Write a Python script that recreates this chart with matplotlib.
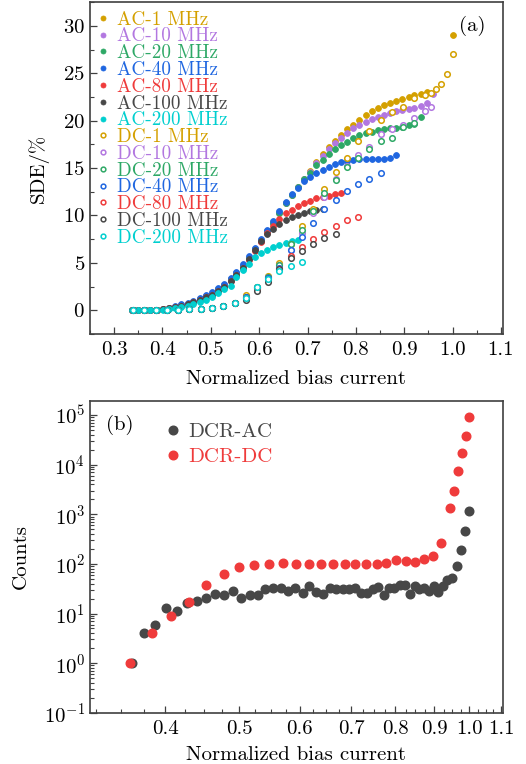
import matplotlib
matplotlib.use("Agg")
import matplotlib.pyplot as plt
from matplotlib.ticker import FixedLocator, MultipleLocator, LogLocator, NullFormatter

plt.rcParams["font.family"] = ["cmr10", "DejaVu Serif"]
plt.rcParams["mathtext.fontset"] = "cm"
plt.rcParams["axes.formatter.use_mathtext"] = True
plt.rcParams["axes.unicode_minus"] = False

# ---- panel (a): SDE vs normalized bias current ----
ac_x = [0.337, 0.350, 0.363, 0.375, 0.388, 0.401, 0.414, 0.426, 0.439, 0.452,
        0.464, 0.477, 0.490, 0.502, 0.515, 0.528, 0.541, 0.553, 0.566, 0.579,
        0.591, 0.604, 0.617, 0.629, 0.642, 0.655, 0.668, 0.680, 0.693, 0.706,
        0.718, 0.731, 0.744, 0.756, 0.769, 0.782, 0.794, 0.807, 0.820, 0.833,
        0.845, 0.858, 0.871, 0.883, 0.896, 0.909, 0.921, 0.934, 0.947, 0.960]

ac_low = [0, 0, 0, 0, 0.05, 0.1, 0.2, 0.35, 0.5, 0.7,
          0.9, 1.15, 1.45, 1.75, 2.2, 2.65, 3.25, 3.9, 4.7, 5.55,
          6.45, 7.35, 8.35, 9.25, 10.3, 11.3, 12.2, 13.0, 13.8]

ac1_y = ac_low + [14.7, 15.6, 16.5, 17.2, 17.9, 18.5, 19.1, 19.6, 20.1, 20.6,
                  21.0, 21.35, 21.65, 21.9, 22.07, 22.28, 22.46, 22.67, 22.84, 23.05]
ac1_x = ac_x[:49] + [1.0]
ac1_y = ac1_y[:49] + [29.1]

ac10_y = ac_low + [14.6, 15.5, 16.3, 17.0, 17.6, 18.2, 18.7, 19.2, 19.55, 19.85,
                   20.15, 20.4, 20.6, 20.84, 21.0, 21.1, 21.23, 21.3, 21.55, 21.9, 22.8]
ac10_x = ac_x[:50]

ac20_y = ac_low + [14.5, 15.3, 15.9, 16.5, 17.0, 17.4, 17.8, 18.15, 18.45, 18.7,
                   18.85, 19.0, 19.1, 19.2, 19.25, 19.3, 19.5, 19.7, 20.35]
ac20_x = ac_x[:48]

ac40_y = [0, 0, 0, 0, 0.05, 0.12, 0.25, 0.4, 0.6, 0.8,
          1.0, 1.3, 1.6, 1.9, 2.35, 2.8, 3.4, 4.05, 4.85, 5.7,
          6.6, 7.5, 8.5, 9.45, 10.45, 11.4, 12.3, 12.9, 13.6, 14.1,
          14.5, 14.85, 15.1, 15.4, 15.6, 15.75, 15.85, 15.93, 15.93, 15.93,
          15.93, 15.97, 16.07, 16.4]
ac40_x = ac_x[:44]

ac80_y = [0, 0, 0, 0, 0.05, 0.1, 0.2, 0.3, 0.45, 0.65,
          0.85, 1.1, 1.35, 1.65, 2.05, 2.5, 3.05, 3.7, 4.5, 5.35,
          6.25, 7.2, 8.1, 8.9, 9.65, 10.25, 10.6, 10.95, 11.3, 11.55,
          11.8, 12.0, 12.1, 12.25, 12.4]
ac80_x = ac_x[:35]

ac100_y = [0, 0, 0, 0, 0.05, 0.1, 0.2, 0.3, 0.45, 0.65,
           0.85, 1.1, 1.35, 1.65, 2.05, 2.5, 3.05, 3.7, 4.5, 5.4,
           6.4, 7.3, 8.0, 8.6, 9.1, 9.47, 9.8, 10.0, 10.25, 10.46,
           10.6, 10.7]
ac100_x = ac_x[:32]

ac200_y = [0, 0, 0, 0, 0, 0.05, 0.1, 0.2, 0.3, 0.4,
           0.6, 0.85, 1.1, 1.4, 1.8, 2.2, 2.6, 3.5, 4.2, 4.9,
           5.6, 6.0, 6.4, 6.67, 6.88, 7.1, 7.26, 7.37]
ac200_x = ac_x[:28]

dc_x = [0.339, 0.362, 0.386, 0.409, 0.432, 0.455, 0.479, 0.502, 0.525, 0.549,
        0.572, 0.595, 0.619, 0.642, 0.665, 0.688, 0.712, 0.735, 0.758, 0.781,
        0.805, 0.828, 0.851, 0.874, 0.898, 0.921, 0.944]
dc_low = [0, 0, 0, 0.05, 0.07, 0.1, 0.15, 0.25, 0.45, 0.8]

dc1_x = dc_x + [0.955, 0.966, 0.977, 0.989, 1.0]
dc1_y = dc_low + [1.55, 2.5, 3.65, 5.0, 7.0, 8.84, 10.67, 12.84, 14.6, 16.1,
                  17.9, 18.95, 20.07, 20.95, 21.4, 22.45, 22.7,
                  22.9, 23.4, 23.9, 24.9, 27.0]
dc10_x = dc_x + [0.955]
dc10_y = dc_low + [1.4, 2.4, 3.5, 4.8, 6.4, 8.1, 10.25, 12.0, 13.9, 15.2,
                   16.4, 17.2, 18.6, 19.1, 19.6, 20.25, 21.05, 21.45]
dc20_x = dc_x[:26]
dc20_y = dc_low + [1.4, 2.4, 3.5, 4.75, 6.95, 8.5, 10.5, 12.35, 13.75, 15.1,
                   16.1, 17.0, 17.9, 18.15, 19.3, 19.8]
dc40_x = dc_x[:23]
dc40_y = dc_low + [1.35, 2.35, 3.4, 4.5, 6.4, 7.7, 9.2, 10.67, 11.65, 12.6,
                   13.3, 13.83, 14.5]
dc80_x = dc_x[:21]
dc80_y = dc_low + [1.25, 2.2, 3.2, 4.4, 5.7, 6.67, 7.54, 8.3, 8.9, 9.47, 9.8]
dc100_x = dc_x[:19]
dc100_y = dc_low + [1.1, 2.0, 3.0, 4.3, 5.5, 6.3, 7.0, 7.58, 8.07]
dc200_x = dc_x[:16]
dc200_y = dc_low + [1.3, 2.4, 3.3, 4.1, 4.63, 5.05]

freqs = ["1", "10", "20", "40", "80", "100", "200"]
colors = ["#D4A000", "#B277E0", "#2EA866", "#1F66E0", "#EF3B3B", "#474747", "#00CFCF"]
ac_series = [(ac1_x, ac1_y), (ac10_x, ac10_y), (ac20_x, ac20_y), (ac40_x, ac40_y),
             (ac80_x, ac80_y), (ac100_x, ac100_y), (ac200_x, ac200_y)]
dc_series = [(dc1_x, dc1_y), (dc10_x, dc10_y), (dc20_x, dc20_y), (dc40_x, dc40_y),
             (dc80_x, dc80_y), (dc100_x, dc100_y), (dc200_x, dc200_y)]

# ---- panel (b): dark counts ----
dcr_ac_x = [0.362, 0.375, 0.388, 0.401, 0.414, 0.427, 0.440, 0.452, 0.465, 0.478,
            0.491, 0.503, 0.516, 0.529, 0.541, 0.554, 0.567, 0.580, 0.592, 0.605,
            0.617, 0.631, 0.644, 0.657, 0.670, 0.684, 0.696, 0.709, 0.721, 0.734,
            0.747, 0.760, 0.773, 0.784, 0.798, 0.811, 0.823, 0.835, 0.848, 0.860,
            0.873, 0.886, 0.899, 0.911, 0.924, 0.935, 0.950, 0.962, 0.975, 0.988, 1.000]
dcr_ac_y = [1, 4, 6, 13, 11.1, 16.4, 18, 21, 25.3, 24,
            28, 21, 24, 24, 31.9, 33, 32, 29, 32, 26.5,
            35.5, 27.7, 25.3, 32, 31, 30.5, 30.5, 32, 26.5, 26.5,
            30.5, 34, 24, 33, 33, 37, 37, 25.3, 36, 30.5,
            32, 29, 35.5, 27, 35.5, 48, 51.5, 90, 188, 462, 1170]
dcr_dc_x = [0.360, 0.384, 0.407, 0.430, 0.453, 0.477, 0.500, 0.523, 0.547, 0.570,
            0.593, 0.617, 0.640, 0.663, 0.687, 0.709, 0.732, 0.756, 0.779, 0.802,
            0.826, 0.849, 0.872, 0.896, 0.919, 0.942, 0.954, 0.966, 0.977, 0.989, 1.000]
dcr_dc_y = [1, 4, 9, 16.9, 38.4, 63, 85.7, 94, 98, 103,
            100, 98, 100, 98, 101, 98, 98, 100, 103, 120,
            115, 111, 126, 143, 269, 1340, 2997, 7340, 17200, 38400, 89800]

spine_c = "#404040"
fs = 15

fig = plt.figure(figsize=(5.26, 7.64), dpi=100)
ax1 = fig.add_axes([0.171, 0.563, 0.785, 0.434])
ax2 = fig.add_axes([0.171, 0.067, 0.785, 0.408])

for (x, y), c, f in zip(ac_series, colors, freqs):
    ax1.plot(x, y, "o", ms=4.2, color=c, mec=c, mew=0.6, ls="none", label=f"AC-{f} MHz")
for (x, y), c, f in zip(dc_series, colors, freqs):
    ax1.plot(x, y, "o", ms=4.0, mfc="white", mec=c, mew=1.1, ls="none", label=f"DC-{f} MHz")

ax1.set_xlim(0.25, 1.104)
ax1.set_ylim(-2.5, 32.5)
ax1.xaxis.set_minor_locator(MultipleLocator(0.05))
ax1.yaxis.set_major_locator(FixedLocator([0, 5, 10, 15, 20, 25, 30]))
ax1.yaxis.set_minor_locator(MultipleLocator(2.5))
ax1.set_xticks([0.3, 0.4, 0.5, 0.6, 0.7, 0.8, 0.9, 1.0, 1.1])
ax1.set_xticklabels(["0.3", "0.4", "0.5", "0.6", "0.7", "0.8", "0.9", "1.0", "1.1"])
ax1.set_xlabel("Normalized bias current", fontsize=fs, labelpad=8)
ax1.set_ylabel("SDE/%", fontsize=fs, labelpad=10)
ax1.text(0.958, 0.96, "(a)", transform=ax1.transAxes, ha="right", va="top", fontsize=fs)

leg1 = ax1.legend(loc="upper left", bbox_to_anchor=(-0.012, 1.015), frameon=False,
                  fontsize=13.8, handlelength=0.5, handletextpad=0.45,
                  labelspacing=-0.06, borderaxespad=0.3, markerscale=0.85)
for t, h in zip(leg1.get_texts(), leg1.legend_handles):
    t.set_color(h.get_markeredgecolor())

ax2.plot(dcr_ac_x, dcr_ac_y, "o", ms=6.2, color="#474747", ls="none", label="DCR-AC")
ax2.plot(dcr_dc_x, dcr_dc_y, "o", ms=6.2, color="#EF3B3B", ls="none", label="DCR-DC")
ax2.set_xscale("log")
ax2.set_yscale("log")
ax2.set_xlim(0.319, 1.106)
ax2.set_ylim(0.1, 1.9e5)
ax2.xaxis.set_major_locator(FixedLocator([0.4, 0.5, 0.6, 0.7, 0.8, 0.9, 1.0, 1.1]))
ax2.xaxis.set_minor_locator(FixedLocator([0.325, 0.35, 0.375, 0.425, 0.45, 0.475,
                                          0.525, 0.55, 0.575, 0.625, 0.65, 0.675,
                                          0.725, 0.75, 0.775, 0.825, 0.85, 0.875,
                                          0.925, 0.95, 0.975, 1.025, 1.05, 1.075, 1.1]))
ax2.xaxis.set_minor_formatter(NullFormatter())
ax2.set_xticklabels(["0.4", "0.5", "0.6", "0.7", "0.8", "0.9", "1.0", "1.1"])
ax2.yaxis.set_major_locator(FixedLocator([1e-1, 1e0, 1e1, 1e2, 1e3, 1e4, 1e5]))
ax2.yaxis.set_minor_locator(LogLocator(base=10, subs=range(2, 10), numticks=10))
ax2.yaxis.set_minor_formatter(NullFormatter())
ax2.set_xlabel("Normalized bias current", fontsize=fs, labelpad=6)
ax2.set_ylabel("Counts", fontsize=fs, labelpad=10)
ax2.text(0.04, 0.955, "(b)", transform=ax2.transAxes, ha="left", va="top", fontsize=fs)

leg2 = ax2.legend(loc="upper left", bbox_to_anchor=(0.165, 0.958), frameon=False,
                  fontsize=fs, handlelength=0.6, handletextpad=0.45,
                  labelspacing=0.32, borderaxespad=0.0)
for t, h in zip(leg2.get_texts(), leg2.legend_handles):
    t.set_color(h.get_markerfacecolor())

for ax in (ax1, ax2):
    for s in ax.spines.values():
        s.set_color(spine_c)
        s.set_linewidth(1.2)
    ax.tick_params(which="both", direction="in", top=False, right=False,
                   color=spine_c, labelsize=fs)
    ax.tick_params(which="major", length=5, width=0.9)
    ax.tick_params(which="minor", length=3, width=0.8)
    ax.tick_params(axis="x", pad=5)

fig.savefig("out.png", dpi=100)
